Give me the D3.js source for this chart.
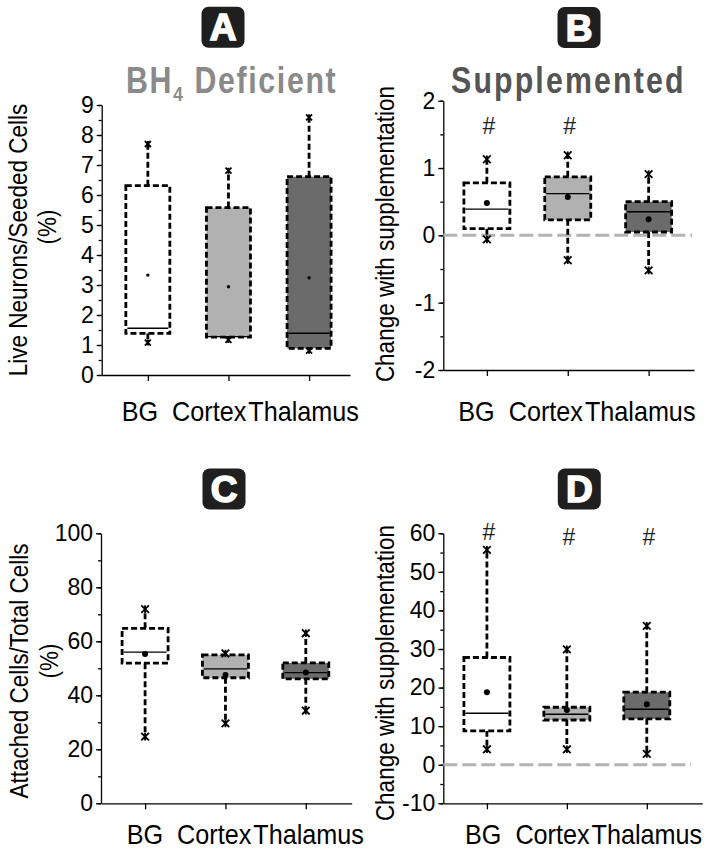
<!DOCTYPE html>
<html><head><meta charset="utf-8">
<script src="https://cdn.jsdelivr.net/npm/d3@7"></script>
<style>
body{margin:0;background:#fff}
svg{display:block}
text{font-family:"Liberation Sans",Arial,Helvetica,sans-serif}
</style>
</head><body>
<svg id="chart" width="714" height="853"></svg>
<script>
// ---------- data ----------
const categories = ["BG", "Cortex", "Thalamus"];
const boxFills = ["#ffffff", "#b1b1b1", "#6b6b6b"];

// Panel A: Live Neurons / Seeded Cells (%), BH4 deficient
const aMax    = [7.70, 6.81, 8.59];
const aQ3     = [6.31, 5.58, 6.61];
const aMedian = [1.56, 1.28, 1.39];
const aQ1     = [1.39, 1.26, 0.89];
const aMin    = [1.08, 1.17, 0.81];
const aMean   = [3.33, 2.94, 3.24];
const aTicks  = [0, 1, 2, 3, 4, 5, 6, 7, 8, 9];

// Panel B: change with supplementation (neurons)
const bMax    = [1.13, 1.19, 0.91];
const bQ3     = [0.78, 0.87, 0.50];
const bMedian = [0.39, 0.62, 0.35];
const bQ1     = [0.10, 0.23, 0.05];
const bMin    = [-0.06, -0.37, -0.52];
const bMean   = [0.48, 0.57, 0.24];
const bHash   = [1.62, 1.62, null];
const bTicks  = [-2, -1, 0, 1, 2];

// Panel C: Attached Cells / Total Cells (%)
const cMax    = [71.9, 55.5, 63.0];
const cQ3     = [64.8, 55.0, 52.0];
const cMedian = [56.0, 49.8, 48.4];
const cQ1     = [51.9, 46.5, 46.1];
const cMin    = [24.7, 29.6, 34.3];
const cMean   = [55.3, 47.5, 48.4];
const cTicks  = [0, 20, 40, 60, 80, 100];

// Panel D: change with supplementation (attached)
const dMax    = [55.7, 29.9, 36.0];
const dQ3     = [27.8, 14.9, 18.8];
const dMedian = [13.35, 13.1, 14.4];
const dQ1     = [8.8, 11.6, 11.9];
const dMin    = [4.0, 4.0, 2.8];
const dMean   = [18.8, 14.2, 15.7];
const dHash   = [60.3, 59.0, 59.0];
const dTicks  = [-10, 0, 10, 20, 30, 40, 50, 60];

// ---------- drawing ----------
const svg = d3.select("#chart");
const DASH = "6,3";
const NARROW = 0.9;   // horizontal compression for the narrow label font

function letterBox(cx, cy, letter){
  svg.append("rect").attr("x", cx - 21.5).attr("y", cy - 20.5)
    .attr("width", 43).attr("height", 41).attr("rx", 7).attr("fill", "#1f1f1f");
  svg.append("text").attr("x", cx).attr("y", cy + 13).attr("text-anchor", "middle")
    .attr("font-size", 37).attr("font-weight", "bold").attr("fill", "#fff")
    .attr("stroke", "#fff").attr("stroke-width", 1.6).text(letter);
}

function marker(g, cx, cy, s){
  const p = d3.path();
  p.moveTo(cx - s, cy - s); p.lineTo(cx + s, cy + s);
  p.moveTo(cx - s, cy + s); p.lineTo(cx + s, cy - s);
  p.moveTo(cx, cy - s); p.lineTo(cx, cy + s);
  g.append("path").attr("d", p.toString()).attr("stroke", "#000").attr("stroke-width", 1.8).attr("fill", "none");
}

function panel(p){
  const g = svg.append("g");
  const y = d3.scaleLinear().domain(p.yDomain).range(p.yRange);
  const x = d3.scalePoint().domain(categories).range(p.xRange).padding(p.pad).align(p.align);
  const x0 = p.xRange[0], yBase = p.yRange[0];

  // minor ticks
  g.append("g").attr("transform", `translate(${x0},0)`)
    .call(d3.axisLeft(y).tickValues(y.ticks(p.minorN)).tickSize(3).tickSizeOuter(0).tickFormat(""))
    .call(a => a.select(".domain").remove());
  // major ticks
  const ya = g.append("g").attr("transform", `translate(${x0},0)`)
    .call(d3.axisLeft(y).tickValues(p.ticks).tickSize(5).tickSizeOuter(0).tickPadding(3).tickFormat(d => String(d)));
  ya.selectAll("text").attr("font-size", 23).attr("fill", "#000").attr("font-family", '"Liberation Sans",Arial,sans-serif');
  // x axis
  g.append("g").attr("transform", `translate(0,${yBase})`)
    .call(d3.axisBottom(x).tickSize(6).tickSizeOuter(0).tickFormat(""));
  g.selectAll(".domain, .tick line").attr("stroke", "#000").attr("stroke-width", 1.3);

  // category labels as one run of narrow text
  const t = g.append("text").attr("transform", `translate(${p.labelX},${p.labelY}) scale(${NARROW},1)`)
    .attr("font-size", 28).attr("fill", "#000");
  categories.forEach((c, i) => {
    t.append("tspan").attr("dx", i === 0 ? 0 : (i === 1 ? 14 / NARROW : 2 / NARROW)).text(c);
  });

  // zero reference line
  if (p.zeroLine){
    g.append("line").attr("x1", x0).attr("x2", p.zeroEnd)
      .attr("y1", y(0)).attr("y2", y(0))
      .attr("stroke", "#b3b3b3").attr("stroke-width", 3).attr("stroke-dasharray", "14,5");
  }

  // boxes
  categories.forEach((c, i) => {
    const cx = x(c), bw = p.boxW;
    g.append("line").attr("x1", cx).attr("x2", cx).attr("y1", y(p.q3[i])).attr("y2", y(p.max[i]))
      .attr("stroke", "#000").attr("stroke-width", 2.8).attr("stroke-dasharray", DASH);
    g.append("line").attr("x1", cx).attr("x2", cx).attr("y1", y(p.q1[i])).attr("y2", y(p.min[i]))
      .attr("stroke", "#000").attr("stroke-width", 2.8).attr("stroke-dasharray", DASH);
    g.append("rect").attr("x", cx - bw / 2).attr("y", y(p.q3[i]))
      .attr("width", bw).attr("height", y(p.q1[i]) - y(p.q3[i]))
      .attr("fill", boxFills[i]).attr("stroke", "#000").attr("stroke-width", 2.8)
      .attr("stroke-dasharray", DASH);
    g.append("line").attr("x1", cx - bw / 2 + 1.5).attr("x2", cx + bw / 2 - 1.5)
      .attr("y1", y(p.median[i])).attr("y2", y(p.median[i]))
      .attr("stroke", "#000").attr("stroke-width", 1.4);
    g.append("circle").attr("cx", cx).attr("cy", y(p.mean[i])).attr("r", p.meanR).attr("fill", "#000");
    marker(g, cx, y(p.max[i]), p.markS);
    marker(g, cx, y(p.min[i]), p.markS);
    if (p.hash && p.hash[i] != null){
      g.append("text").attr("x", cx + 2).attr("y", y(p.hash[i]) + 8).attr("text-anchor", "middle")
        .attr("font-size", 23).attr("fill", "#222")
        .attr("font-family", '"Liberation Serif","Times New Roman",serif').text("#");
    }
  });

  // y label (narrow text, rotated)
  p.yLabel.forEach(l => {
    g.append("text").attr("transform", `translate(${l.x},${l.y}) rotate(-90) scale(${NARROW},1)`)
      .attr("text-anchor", "middle").attr("dominant-baseline", "central")
      .attr("font-size", 25).attr("fill", "#000").text(l.text);
  });
}

panel({
  yDomain: [0, 9], yRange: [375, 105], ticks: aTicks, minorN: 18,
  xRange: [101.7, 350], pad: 0.54, align: 0.53, boxW: 44,
  max: aMax, q3: aQ3, median: aMedian, q1: aQ1, min: aMin, mean: aMean,
  meanR: 1.7, markS: 3,
  labelX: 121.7, labelY: 421,
  yLabel: [{x: 18, y: 240, text: "Live Neurons/Seeded Cells"}, {x: 47, y: 227, text: "(%)"}]
});
panel({
  yDomain: [-2, 2], yRange: [370, 100.7], ticks: bTicks, minorN: 8,
  xRange: [443.3, 694], pad: 0.55, align: 0.49, boxW: 46,
  max: bMax, q3: bQ3, median: bMedian, q1: bQ1, min: bMin, mean: bMean, hash: bHash,
  meanR: 3, markS: 3.8, zeroLine: true, zeroEnd: 692,
  labelX: 458.3, labelY: 421,
  yLabel: [{x: 385.5, y: 234, text: "Change with supplementation"}]
});
panel({
  yDomain: [0, 100], yRange: [803.3, 533.3], ticks: cTicks, minorN: 10,
  xRange: [101, 351.7], pad: 0.56, align: 0.49, boxW: 46,
  max: cMax, q3: cQ3, median: cMedian, q1: cQ1, min: cMin, mean: cMean,
  meanR: 3, markS: 3.8,
  labelX: 126.7, labelY: 844,
  yLabel: [{x: 19, y: 671, text: "Attached Cells/Total Cells"}, {x: 49, y: 661, text: "(%)"}]
});
panel({
  yDomain: [-10, 60], yRange: [803.3, 533.3], ticks: dTicks, minorN: 14,
  xRange: [443.3, 702.3], pad: 0.62, align: 0.44, boxW: 46,
  max: dMax, q3: dQ3, median: dMedian, q1: dQ1, min: dMin, mean: dMean, hash: dHash,
  meanR: 3, markS: 3.8, zeroLine: true, zeroEnd: 691,
  labelX: 465, labelY: 844,
  yLabel: [{x: 385.5, y: 673, text: "Change with supplementation"}]
});

// titles (bold narrow, letter-spaced)
const TN = 0.82;
const tA = svg.append("text").attr("transform", `translate(231.7,93) scale(${TN},1)`).attr("text-anchor", "middle")
  .attr("font-size", 37).attr("font-weight", "bold").attr("fill", "#8a8a8a").attr("letter-spacing", 2);
tA.append("tspan").text("BH");
tA.append("tspan").attr("font-size", 21).attr("dy", 8).text("4");
tA.append("tspan").attr("dy", -8).text(" Deficient");

svg.append("text").attr("transform", `translate(568.3,93) scale(${TN},1)`).attr("text-anchor", "middle")
  .attr("font-size", 37).attr("font-weight", "bold").attr("fill", "#555").attr("letter-spacing", 2.6)
  .text("Supplemented");

letterBox(223, 27.2, "A");
letterBox(579, 27.5, "B");
letterBox(224, 489, "C");
letterBox(579.3, 489, "D");
</script>
</body></html>
